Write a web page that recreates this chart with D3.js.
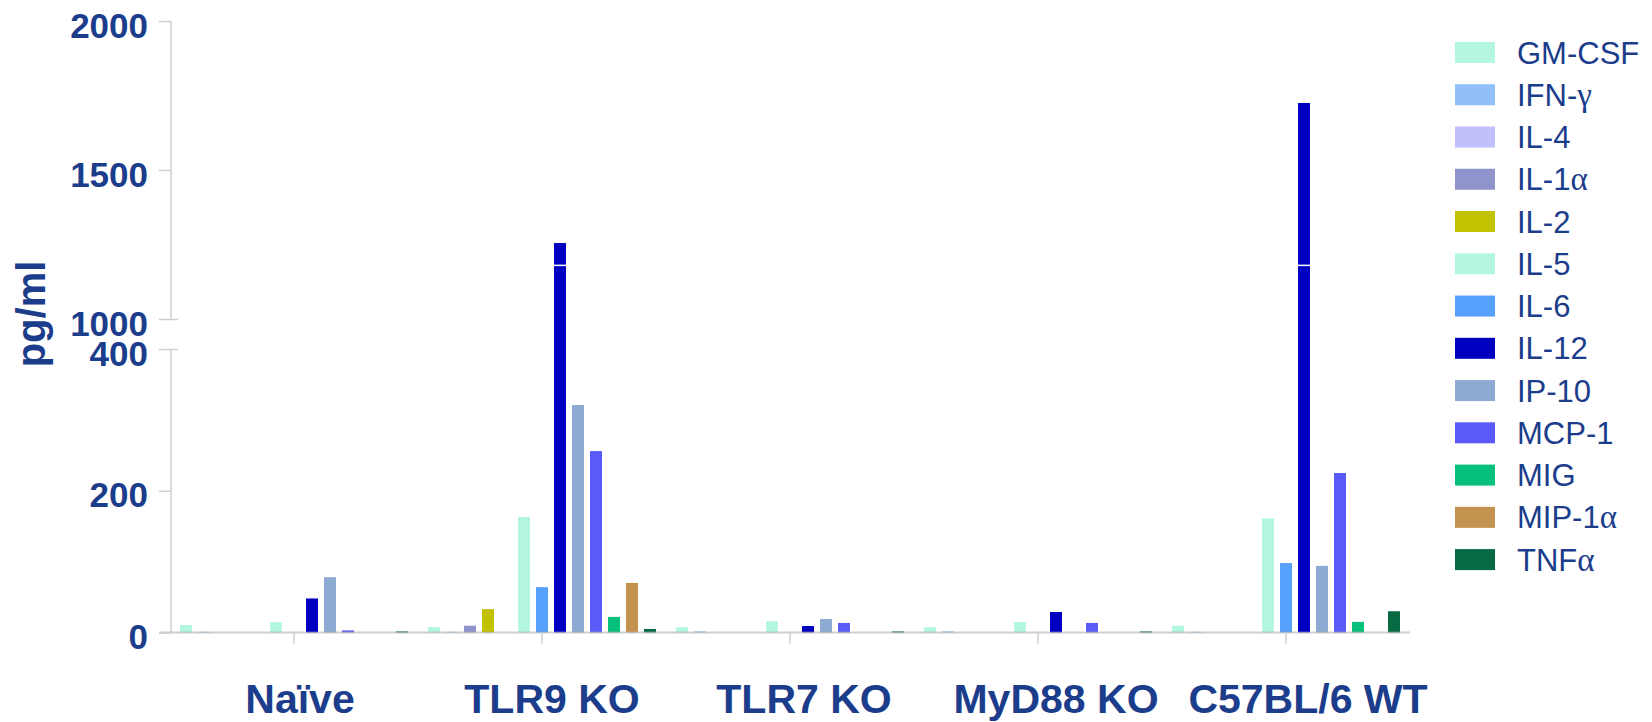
<!DOCTYPE html>
<html>
<head>
<meta charset="utf-8">
<script src="https://cdn.jsdelivr.net/npm/d3@7"></script>
<style>
  html, body { margin: 0; padding: 0; background: #ffffff; }
  svg { display: block; }
</style>
</head>
<body>
<svg id="chart" width="1652" height="722"></svg>
<script>
// ---------- DATA ----------
const groups = ["Naïve", "TLR9 KO", "TLR7 KO", "MyD88 KO", "C57BL/6 WT"];
// order of bars inside every group
const barOrder = ["GM-CSF", "IFN-γ", "IL-1α", "IL-2", "IL-4", "IL-5", "IL-6", "IL-12", "IP-10", "MCP-1", "MIG", "MIP-1α", "TNFα"];
// order of the legend entries
const legendOrder = ["GM-CSF", "IFN-γ", "IL-4", "IL-1α", "IL-2", "IL-5", "IL-6", "IL-12", "IP-10", "MCP-1", "MIG", "MIP-1α", "TNFα"];
const colors = {
  "GM-CSF": "#b3f7df", "IFN-γ": "#90bff9", "IL-4": "#c0c0fc", "IL-1α": "#8f94cc",
  "IL-2": "#c2c200", "IL-5": "#b3f7df", "IL-6": "#55a1fc", "IL-12": "#0000c0",
  "IP-10": "#8dabd2", "MCP-1": "#5a5af8", "MIG": "#06c07b", "MIP-1α": "#c4924f", "TNFα": "#066a43"
};
// values (pg/ml), in barOrder
const naiveValues = [10.5, 1, 0, 0, 0, 14.5, 0, 48, 78, 3, 0, 0, 1.5];
const tlr9Values  = [7.7, 1, 9.6, 33, 0, 163, 64, 1255, 321, 256, 22, 70, 5];
const tlr7Values  = [7.5, 1.5, 0, 0, 0, 16, 0, 9.2, 19, 13.5, 0, 0, 1.5];
const myd88Values = [7.5, 1.5, 0, 0, 0, 14.8, 0, 28.9, 0, 13.5, 0, 0, 1.5];
const c57Values   = [9.5, 1, 0, 0, 0, 161, 98, 1725, 94, 225, 15, 0, 30];
const groupValues = [naiveValues, tlr9Values, tlr7Values, myd88Values, c57Values];
const yTicks = [0, 200, 400, 1000, 1500, 2000];
const yBreakDomain = [0, 400, 1000, 2000];   // broken axis: 0-400 and 1000-2000
const barBreakValue = 1180;                   // white cut drawn across very tall bars
const yLabel = "pg/ml";

// ---------- LAYOUT ----------
const svg = d3.select("#chart");
const textColor = "#1b3d8b";
const axisGrey = "#cfcfcf";
const font = "'Liberation Sans', Arial, Helvetica, sans-serif";

const x0 = d3.scaleBand().domain(groups).range([170, 1410]).paddingInner(0).paddingOuter(0);
const x1 = d3.scaleBand().domain(barOrder).range([0, x0.bandwidth()])
  .paddingInner(1 / 3).paddingOuter(0.5556);
const y = d3.scaleLinear().domain(yBreakDomain).range([632.5, 349, 319, 21]);
const xLabel = d3.scalePoint().domain(groups).range([300, 1308]);

const rows = [];
groups.forEach((g, gi) => {
  barOrder.forEach((s, si) => rows.push({ group: g, series: s, value: groupValues[gi][si] }));
});

// bars
const barG = svg.append("g");
barG.selectAll("rect.bar").data(rows.filter(d => d.value > 0)).join("rect")
  .attr("class", "bar")
  .attr("x", d => x0(d.group) + x1(d.series))
  .attr("width", x1.bandwidth())
  .attr("y", d => y(d.value))
  .attr("height", d => y(0) - y(d.value))
  .attr("fill", d => colors[d.series]);

// white cut across tall bars
barG.selectAll("rect.cut").data(rows.filter(d => d.value > barBreakValue)).join("rect")
  .attr("class", "cut")
  .attr("x", d => x0(d.group) + x1(d.series))
  .attr("width", x1.bandwidth())
  .attr("y", y(barBreakValue) - 0.75)
  .attr("height", 1.5)
  .attr("fill", "#ffffff");

// x axis baseline + ticks
const xAxisG = svg.append("g").attr("transform", `translate(0,${y(0)})`);
xAxisG.append("line").attr("x1", 159).attr("x2", x0.range()[1])
  .attr("stroke", "rgba(170,170,170,0.55)").attr("stroke-width", 2);
xAxisG.selectAll("line.xt").data(groups).join("line")
  .attr("class", "xt")
  .attr("x1", d => x0(d) + x0.bandwidth() / 2).attr("x2", d => x0(d) + x0.bandwidth() / 2)
  .attr("y1", 0).attr("y2", 11)
  .attr("stroke", axisGrey).attr("stroke-width", 1.5);

// y axis (broken)
const yAxis = d3.axisLeft(y).tickValues(yTicks).tickSize(12).tickPadding(11).tickFormat(d3.format("d"));
const yAxisG = svg.append("g").attr("transform", "translate(171,0)").call(yAxis);
yAxisG.select(".domain").remove();
yAxisG.selectAll(".tick line").attr("stroke", axisGrey).attr("stroke-width", 1.5)
  .attr("x2", d => (d === 400 || d === 1000) ? 7 : 0).attr("x1", -12);
yAxisG.selectAll(".tick text")
  .attr("fill", textColor).attr("font-family", font).attr("font-weight", "bold")
  .attr("font-size", 35).attr("dy", "0.46em");
yAxisG.append("line").attr("x1", 0).attr("x2", 0).attr("y1", y(2000)).attr("y2", y(1000))
  .attr("stroke", axisGrey).attr("stroke-width", 1.5);
yAxisG.append("line").attr("x1", 0).attr("x2", 0).attr("y1", y(400)).attr("y2", y(0))
  .attr("stroke", axisGrey).attr("stroke-width", 1.5);

// y label
svg.append("text")
  .attr("transform", "translate(45,314) rotate(-90)")
  .attr("text-anchor", "middle")
  .attr("fill", textColor).attr("font-family", font).attr("font-weight", "bold").attr("font-size", 40)
  .text(yLabel);

// category labels
svg.append("g").selectAll("text").data(groups).join("text")
  .attr("x", d => xLabel(d)).attr("y", 713)
  .attr("text-anchor", "middle")
  .attr("fill", textColor).attr("font-family", font).attr("font-weight", "bold").attr("font-size", 41)
  .text(d => d);

// legend
const legendY = d3.scalePoint().domain(legendOrder).range([52.5, 559.6]);
const lg = svg.append("g");
const items = lg.selectAll("g").data(legendOrder).join("g")
  .attr("transform", d => `translate(1455,${legendY(d)})`);
items.append("rect").attr("x", 0).attr("y", -10.5).attr("width", 40).attr("height", 21)
  .attr("fill", d => colors[d]);
const lt = items.append("text").attr("x", 62).attr("y", 11)
  .attr("fill", textColor).attr("font-family", font).attr("font-size", 31);
lt.each(function (d) {
  const t = d3.select(this);
  const parts = d.split(/([αγ])/).filter(p => p.length);
  parts.forEach(p => {
    const ts = t.append("tspan").text(p);
    if (/[αγ]/.test(p)) ts.attr("font-family", "'Liberation Serif', 'Times New Roman', serif").attr("font-size", 33);
  });
});
</script>
</body>
</html>
